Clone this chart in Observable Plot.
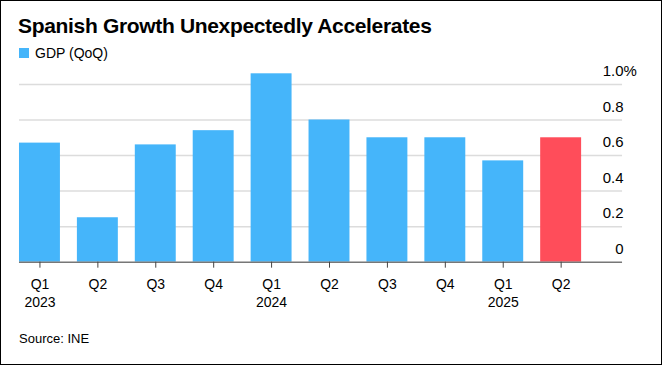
<!DOCTYPE html>
<html><head><meta charset="utf-8">
<script src="https://cdn.jsdelivr.net/npm/d3@7"></script>
<script src="https://cdn.jsdelivr.net/npm/@observablehq/plot@0.6"></script>
<style>
body{margin:0;background:#fff;}
#wrap{position:relative;width:662px;height:365px;border:1px solid #000;box-sizing:border-box;font-family:"Liberation Sans",Arial,sans-serif;overflow:hidden;background:#fff;}
#title{position:absolute;left:17px;top:13px;font-weight:bold;font-size:21px;color:#000;letter-spacing:-0.33px;white-space:nowrap;}
#legend{position:absolute;left:18px;top:44px;font-size:14px;display:flex;align-items:center;color:#000;}
#legend .sw{display:inline-block;width:10px;height:10px;background:#45b5fa;margin-right:6px;}
#chart{position:absolute;left:-1px;top:59px;}
#source{position:absolute;left:18px;top:330px;font-size:13px;color:#000;}
</style>
</head><body>
<div id="wrap">
  <div id="title">Spanish Growth Unexpectedly Accelerates</div>
  <div id="legend"><span class="sw"></span>GDP (QoQ)</div>
  <div id="chart"></div>
  <div id="source">Source: INE</div>
</div>
<script>
const quarters = ["Q1","Q2","Q3","Q4","Q1","Q2","Q3","Q4","Q1","Q2"];
const years = ["2023","","","","2024","","","","2025",""];
const gdp = [0.67,0.25,0.66,0.74,1.06,0.80,0.70,0.70,0.57,0.70];
const yTicks = [0,0.2,0.4,0.6,0.8,1.0];
const yLabels = ["0","0.2","0.4","0.6","0.8","1.0"];
const blue = "#45b5fa", red = "#ff4d5a";

const data = quarters.map((q,i)=>({
  key:i,
  label: years[i] ? q + "\n" + years[i] : q,
  value: gdp[i],
  color: i === quarters.length-1 ? red : blue
}));

const chart = Plot.plot({
  width:662, height:262,
  marginTop:24, marginBottom:60, marginLeft:19, marginRight:39,
  style:{fontFamily:"Liberation Sans, Arial, sans-serif", fontSize:"14px", color:"#000", background:"transparent"},
  x:{type:"band", domain:data.map(d=>d.key), paddingInner:0.29, paddingOuter:0, insetRight:40, axis:null},
  y:{domain:[0,1], axis:null},
  marks:[
    Plot.ruleY(yTicks.slice(1), {stroke:"#dcdcdc", strokeWidth:1.5}),
    Plot.barY(data, {x:"key", y:"value", fill:"color"}),
    Plot.ruleY([0], {stroke:"#777", strokeWidth:1.5}),
    Plot.axisX({label:null, tickFormat:i=>data[i].label, tickSize:6, tickPadding:8, lineHeight:1.3, fontSize:14, stroke:"#444", fill:"#000"}),
    Plot.text(yTicks, {y:d=>d, text:(d,i)=>yLabels[i], frameAnchor:"right", textAnchor:"end", dx:1, dy:-13, fontSize:15, fill:"#000"}),
    Plot.text([1.0], {y:d=>d, text:()=>"%", frameAnchor:"right", textAnchor:"start", dx:1, dy:-13, fontSize:15, fill:"#000"})
  ]
});
document.getElementById("chart").appendChild(chart);
</script>
</body></html>
